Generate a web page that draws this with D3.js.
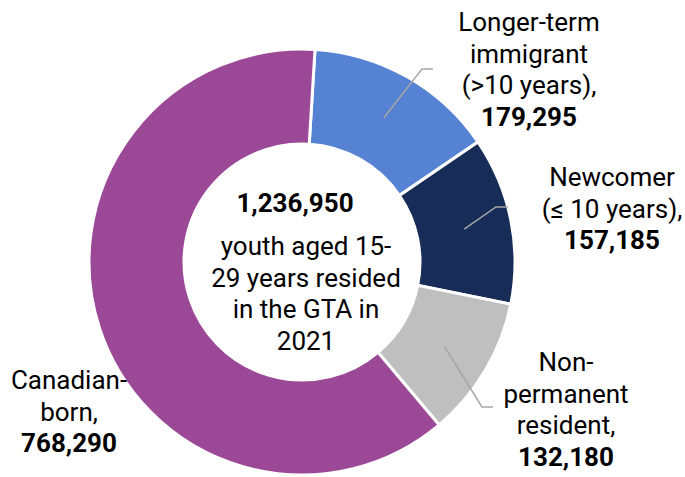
<!DOCTYPE html>
<html lang="en">
<head>
  <meta charset="UTF-8">
  <title>Youth aged 15-29 in the GTA, 2021</title>
  <script src="https://d3js.org/d3.v7.min.js"></script>
  <style>
    body {
      margin: 0;
      background: #fff;
    }
    svg text {
      font-family: Roboto, 'Noto Sans', sans-serif;
      font-size: 26px;
      fill: #000;
    }
    .bold {
      font-weight: bold;
    }
  </style>
</head>
<body>
  <svg id="chart" width="685" height="477"></svg>

  <script>
    // Data
    const categories = ["Longer-term immigrant (>10 years)", "Newcomer (≤ 10 years)", "Non-permanent resident", "Canadian-born"];
    const values = [179295, 157185, 132180, 768290];
    const colors = ["#5582D3", "#172C57", "#BFBFBF", "#9B4897"];
    const labelLines = [
      ["Longer-term", "immigrant", "(>10 years),"],
      ["Newcomer", "(≤ 10 years),"],
      ["Non-", "permanent", "resident,"],
      ["Canadian-", "born,"]
    ];
    const centerTotal = d3.sum(values);
    const centerLines = ["youth aged 15-", "29 years resided", "in the GTA in", "2021"];

    // Layout
    const cx = 302, cy = 262;
    const outerR = 213, innerR = 118;
    const startAngle = 3.5 * Math.PI / 180;
    const lineH = 31.5;
    // label block: x centre, first baseline, leader elbow [x, y], leader end x
    const labelLayout = [
      { x: 529, y: 31, elbow: [422, 69], end: 433 },
      { x: 612, y: 186, elbow: [496, 207], end: 508 },
      { x: 566, y: 371, elbow: [482, 407], end: 493 },
      { x: 69, y: 389, elbow: null }
    ];

    const fmt = d3.format(",");
    const data = categories.map((c, i) => ({ name: c, value: values[i], color: colors[i], lines: labelLines[i], layout: labelLayout[i] }));

    const svg = d3.select("#chart");
    const g = svg.append("g").attr("transform", `translate(${cx},${cy})`);

    const pie = d3.pie()
      .value(d => d.value)
      .sort(null)
      .startAngle(startAngle)
      .endAngle(startAngle + 2 * Math.PI);

    const arc = d3.arc().innerRadius(innerR).outerRadius(outerR);
    const arcs = pie(data);

    g.selectAll("path.slice")
      .data(arcs)
      .enter()
      .append("path")
      .attr("class", "slice")
      .attr("d", arc)
      .attr("fill", d => d.data.color)
      .attr("stroke", "#fff")
      .attr("stroke-width", 3);

    // Leader lines from slice centroid to elbow
    arcs.forEach(a => {
      const L = a.data.layout;
      if (!L.elbow) return;
      const c = arc.centroid(a);
      const pts = [[cx + c[0], cy + c[1]], L.elbow, [L.end, L.elbow[1]]];
      svg.append("path")
        .attr("d", d3.line()(pts))
        .attr("fill", "none")
        .attr("stroke", "#A6A6A6")
        .attr("stroke-width", 1.5);
    });

    // Labels
    data.forEach(d => {
      const L = d.layout;
      const t = svg.append("text")
        .attr("text-anchor", "middle")
        .attr("x", L.x)
        .attr("y", L.y);
      d.lines.forEach((line, i) => {
        t.append("tspan").attr("x", L.x).attr("dy", i === 0 ? 0 : lineH).text(line);
      });
      t.append("tspan").attr("x", L.x).attr("dy", lineH).attr("class", "bold").text(fmt(d.value));
    });

    // Centre text
    svg.append("text")
      .attr("class", "bold")
      .attr("text-anchor", "middle")
      .attr("x", 295)
      .attr("y", 212)
      .text(fmt(centerTotal));

    const ct = svg.append("text")
      .attr("text-anchor", "middle")
      .attr("x", 306)
      .attr("y", 255);
    centerLines.forEach((line, i) => {
      ct.append("tspan").attr("x", 306).attr("dy", i === 0 ? 0 : lineH).text(line);
    });
  </script>
</body>
</html>
